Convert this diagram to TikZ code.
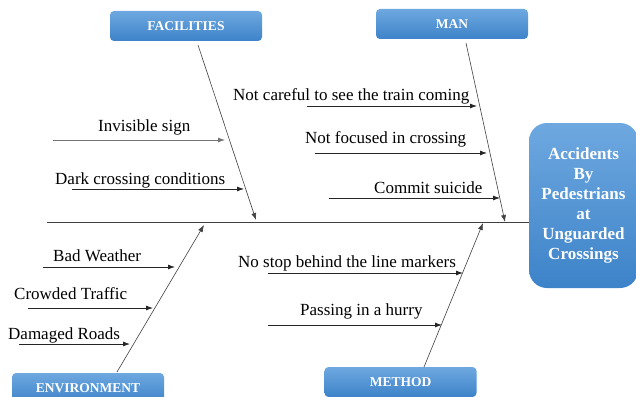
\documentclass[tikz,border=0pt]{standalone}
\usepackage{fontspec}
\setmainfont{Liberation Serif}
\usetikzlibrary{arrows.meta}

\definecolor{boxtop}{HTML}{6EA8E0}
\definecolor{boxbot}{HTML}{3D83C9}

\begin{document}
\begin{tikzpicture}[
    x=1pt, y=-1pt,
    >={Latex[length=7pt,width=5pt]},
    every node/.style={font=\fontsize{17}{20}\selectfont},
    catbox/.style={
        rounded corners=4pt,
        top color=boxtop,
        bottom color=boxbot,
        text=white,
        font=\fontsize{13.5}{15}\selectfont\bfseries,
        minimum width=152pt,
        minimum height=30pt,
        inner sep=0pt
    },
    effectbox/.style={
        rounded corners=18pt,
        top color=boxtop,
        bottom color=boxbot,
        text=white,
        align=center,
        font=\fontsize{17}{20}\selectfont\bfseries,
        minimum width=109pt,
        minimum height=165pt,
        inner sep=0pt
    },
    cause/.style={anchor=base west, inner sep=0pt},
    line/.style={->, line width=0.8pt, draw=black!85},
    bone/.style={->, line width=0.6pt, draw=black!75}
]
\useasboundingbox (0,0) rectangle (636,396);

% Categories and effect
\node[catbox] (fac) at (186,26) {FACILITIES};
\node[catbox] (man) at (452,24) {MAN};
\node[catbox] (env) at (88,388) {ENVIRONMENT};
\node[catbox] (met) at (400.5,382) {METHOD};
\node[effectbox] (effect) at (583.5,205.5)
{Accidents\\By\\Pedestrians\\at\\Unguarded\\Crossings};

% Spine
\coordinate (spine) at (47,222);
\draw[line width=0.8pt, draw=black!75] (spine) -- (spine -| effect.west);

% Bones
\coordinate (facS) at (198,45);  \coordinate (facE) at (256,220);
\coordinate (manS) at (466,43);  \coordinate (manE) at (505,222);
\coordinate (envS) at (117,372); \coordinate (envE) at (204,225);
\coordinate (metS) at (424,367); \coordinate (metE) at (483,223);
\draw[bone] (facS) -- (facE);
\draw[bone] (manS) -- (manE);
\draw[bone] (envS) -- (envE);
\draw[bone] (metS) -- (metE);

% Facilities
\node[cause] (invis) at (98,131) {Invisible sign};
\node[cause] (dark) at (55,184) {Dark crossing conditions};
\coordinate (invisS) at (53,140);  \coordinate (invisE) at (225,140);
\coordinate (darkS) at (72,189);   \coordinate (darkE) at (244,189);
\draw[line, draw=black!55] (invisS) -- (invisE);
\draw[line] (darkS) -- (darkE);

% Man
\node[cause] (careful) at (233,100) {Not careful to see the train coming};
\node[cause] (focus) at (305,143) {Not focused in crossing};
\node[cause] (suicide) at (374,193) {Commit suicide};
\coordinate (carefulS) at (307,106); \coordinate (carefulE) at (477,106);
\coordinate (focusS) at (315,153);   \coordinate (focusE) at (487,153);
\coordinate (suicideS) at (329,198); \coordinate (suicideE) at (500,198);
\draw[line] (carefulS) -- (carefulE);
\draw[line] (focusS) -- (focusE);
\draw[line] (suicideS) -- (suicideE);

% Environment
\node[cause] (weather) at (53,261) {Bad Weather};
\node[cause] (traffic) at (14,299) {Crowded Traffic};
\node[cause] (roads) at (8,339) {Damaged Roads};
\coordinate (weatherS) at (43,267); \coordinate (weatherE) at (175,267);
\coordinate (trafficS) at (28,308); \coordinate (trafficE) at (153,308);
\coordinate (roadsS) at (19,344);   \coordinate (roadsE) at (130,344);
\draw[line] (weatherS) -- (weatherE);
\draw[line] (trafficS) -- (trafficE);
\draw[line] (roadsS) -- (roadsE);

% Method
\node[cause] (nostop) at (238,267) {No stop behind the line markers};
\node[cause] (hurry) at (300,315) {Passing in a hurry};
\coordinate (nostopS) at (268,273); \coordinate (nostopE) at (463,273);
\coordinate (hurryS) at (268,325);  \coordinate (hurryE) at (442,325);
\draw[line] (nostopS) -- (nostopE);
\draw[line] (hurryS) -- (hurryE);

\end{tikzpicture}
\end{document}
